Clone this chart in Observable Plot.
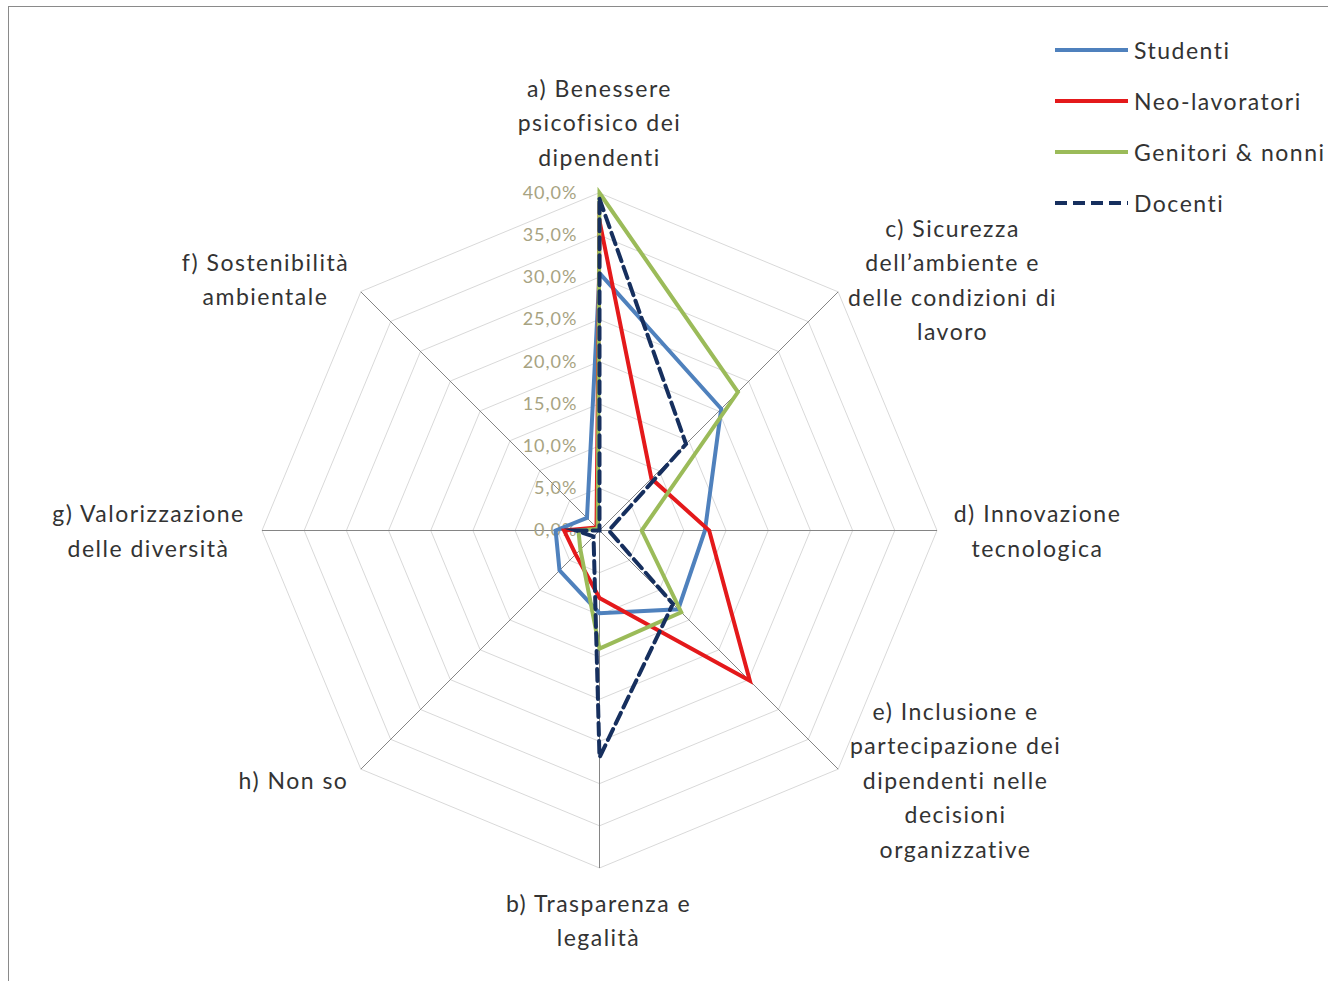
<!DOCTYPE html>
<html><head><meta charset="utf-8">
<script src="https://cdn.jsdelivr.net/npm/d3@7"></script>
<script src="https://cdn.jsdelivr.net/npm/@observablehq/plot@0.6"></script>
<style>
html,body{margin:0;padding:0;background:#fff;overflow:hidden;}
#wrap{position:relative;width:1328px;height:981px;overflow:hidden;}
#frame{position:absolute;left:8px;top:6px;width:1500px;height:1200px;border-left:1.5px solid #8a8a8a;border-top:1.5px solid #8a8a8a;}
#chart{position:absolute;left:0;top:0;}
#chart text{font-variant-ligatures:none;letter-spacing:1.5px;}
#chart g[fill="#a7a382"] text{letter-spacing:1px;}
#legend{position:absolute;left:1055px;top:0;font-family:Lato,sans-serif;font-size:23px;letter-spacing:1.5px;font-variant-ligatures:none;color:#333;}
.item{position:absolute;left:0;height:30px;display:flex;align-items:center;white-space:nowrap;}
.item svg{margin-right:6px;}
</style></head><body>
<div id="wrap"><div id="frame"></div><div id="chart"></div><div id="legend"></div></div>
<script>
// ---- data ----
const categories = ["a", "c", "d", "e", "b", "h", "g", "f"];
const categoryLabels = [
  "a) Benessere\npsicofisico dei\ndipendenti",
  "c) Sicurezza\ndell’ambiente e\ndelle condizioni di\nlavoro",
  "d) Innovazione\ntecnologica",
  "e) Inclusione e\npartecipazione dei\ndipendenti nelle\ndecisioni\norganizzative",
  "b) Trasparenza e\nlegalità",
  "h) Non so",
  "g) Valorizzazione\ndelle diversità",
  "f) Sostenibilità\nambientale"
];
const seriesNames = ["Studenti", "Neo-lavoratori", "Genitori & nonni", "Docenti"];
const studenti      = [30.5, 20.4, 12.5, 13.2,  9.8, 6.7, 5.2, 2.1];
const neoLavoratori = [36.7,  8.7, 13.0, 25.2,  8.0, 4.0, 4.2, 0.5];
const genitori      = [40.0, 23.2,  5.0, 13.7, 14.0, 3.2, 2.5, 0.3];
const docenti       = [39.3, 14.5,  1.1, 12.3, 26.9, 1.0, 2.8, 0.0];
const tickValues = [0, 5, 10, 15, 20, 25, 30, 35, 40];
const tickLabels = ["0,0%", "5,0%", "10,0%", "15,0%", "20,0%", "25,0%", "30,0%", "35,0%", "40,0%"];

// ---- styles / layout ----
const W = 1328, H = 981, CX = 599, CY = 530, RMAX_PX = 337.5, RMAX = 40;
const k = RMAX_PX / RMAX;
const colors = ["#4f81bd", "#e4191b", "#9bbb59", "#162f5e"];
const dashes = [null, null, null, "12,6"];
const FONT = "Lato, sans-serif";
const labelOffsets = [[0,-73],[114.4,-14.5],[100.5,-2],[117.4,8.4],[-1,50],[-67.4,8.9],[-113.5,-2],[-95.4,-14.9]];

const n = categories.length;
const ang = i => i * 2 * Math.PI / n;
const px = (i, r) => r * Math.sin(ang(i));
const py = (i, r) => r * Math.cos(ang(i));

const seriesValues = [studenti, neoLavoratori, genitori, docenti];
const rows = seriesNames.map((s, si) => seriesValues[si].map((v, i) => ({series: s, i, v})));

const ringRows = tickValues.filter(t => t > 0).flatMap(t => categories.map((c, i) => ({t, i})));

const marks = [
  Plot.line(ringRows, {x: d => px(d.i, d.t), y: d => py(d.i, d.t), z: "t", curve: "linear-closed", stroke: "#d9d9d9", strokeWidth: 1}),
  Plot.link(categories.map((c, i) => i), {x1: 0, y1: 0, x2: i => px(i, RMAX), y2: i => py(i, RMAX), stroke: "#858585", strokeWidth: 1}),
  Plot.text(tickValues, {x: 0, y: d => d, text: (d, j) => tickLabels[j], dx: -22, textAnchor: "end", fill: "#a7a382", fontSize: 18, fontFamily: FONT})
];
rows.forEach((r, si) => {
  marks.push(Plot.line(r, {x: d => px(d.i, d.v), y: d => py(d.i, d.v), curve: "linear-closed", stroke: colors[si], strokeWidth: 4, strokeDasharray: dashes[si] || undefined, strokeLinejoin: "miter", strokeMiterlimit: 10}));
});
categories.forEach((c, i) => {
  marks.push(Plot.text([i], {x: d => px(d, RMAX), y: d => py(d, RMAX), text: d => categoryLabels[d], dx: labelOffsets[i][0], dy: labelOffsets[i][1], textAnchor: "middle", lineAnchor: "middle", lineHeight: 1.5, fontSize: 23, fontFamily: FONT, fill: "#333"}));
});

const chart = Plot.plot({
  width: W, height: H, margin: 0,
  x: {domain: [-CX / k, (W - CX) / k], range: [0, W], axis: null},
  y: {domain: [-(H - CY) / k, CY / k], range: [H, 0], axis: null},
  style: {background: "transparent", overflow: "visible"},
  marks
});
document.getElementById("chart").appendChild(chart);

// legend
const legend = document.getElementById("legend");
seriesNames.forEach((s, si) => {
  const item = document.createElement("div");
  item.className = "item";
  item.style.top = (50 + 51 * si - 15) + "px";
  item.innerHTML = `<svg width="73" height="8"><line x1="0" y1="4" x2="73" y2="4" stroke="${colors[si]}" stroke-width="4" ${dashes[si] ? `stroke-dasharray="${dashes[si]}"` : ""}/></svg><span>${s}</span>`;
  legend.appendChild(item);
});
</script>
</body></html>
